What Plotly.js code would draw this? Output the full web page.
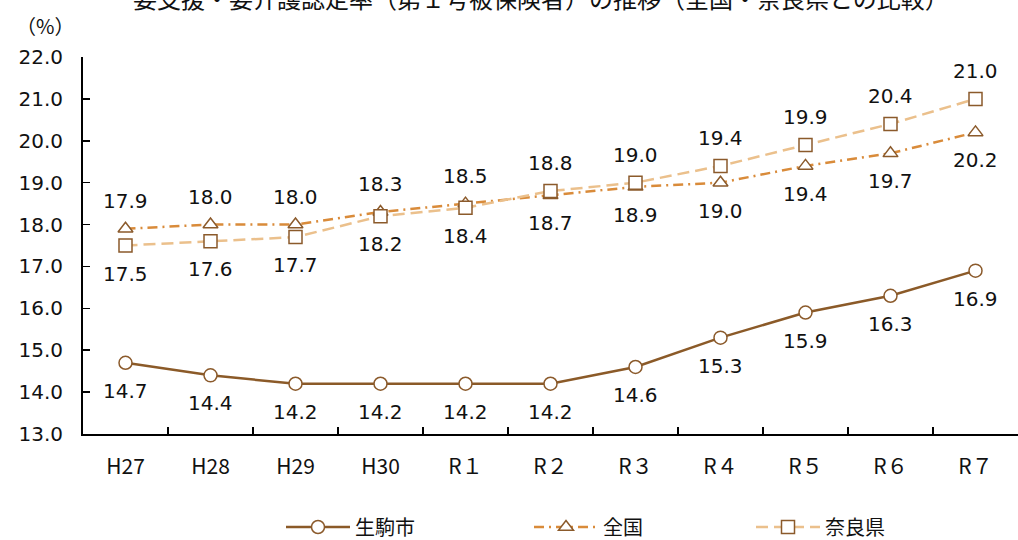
<!DOCTYPE html>
<html>
<head>
<meta charset="utf-8">
<script src="https://cdn.plot.ly/plotly-3.0.1.min.js"></script>
<style>html,body{margin:0;padding:0;background:#fff;}#chart{width:1018px;height:540px;}</style>
</head>
<body>
<div id="chart"></div>
<script>
const years = ["H27","H28","H29","H30","R１","R２","R３","R４","R５","R６","R７"];
const ikoma = [14.7,14.4,14.2,14.2,14.2,14.2,14.6,15.3,15.9,16.3,16.9];
const zenkoku = [17.9,18.0,18.0,18.3,18.5,18.7,18.9,19.0,19.4,19.7,20.2];
const nara = [17.5,17.6,17.7,18.2,18.4,18.8,19.0,19.4,19.9,20.4,21.0];
const seriesNames = ["生駒市","全国","奈良県"];
// label placement: +1 above, -1 below
const zenkokuSide = [1,1,1,1,1,-1,-1,-1,-1,-1,-1];
const naraSide = [-1,-1,-1,-1,-1,1,1,1,1,1,1];
const ikomaSide = [-1,-1,-1,-1,-1,-1,-1,-1,-1,-1,-1];

const NUMFONT = '"DejaVu Sans", "Noto Sans CJK JP", sans-serif';
const JPFONT = '"Noto Sans CJK JP", "Noto Sans", sans-serif';
const markerLine = '#8B5A2B';

const traces = [
  {x: years, y: ikoma, name: seriesNames[0], legend: 'legend', type: 'scatter', mode: 'lines+markers',
   line: {color: '#8B5A28', width: 2.5},
   marker: {symbol: 'circle', size: 13, color: '#ffffff', line: {color: markerLine, width: 1.5}}},
  {x: years, y: zenkoku, name: seriesNames[1], legend: 'legend2', type: 'scatter', mode: 'lines+markers',
   line: {color: '#D98B3A', width: 2.5, dash: '10px,5px,2px,5px'},
   marker: {symbol: 'triangle-up', size: 13, color: '#ffffff', line: {color: markerLine, width: 1.5}}},
  {x: years, y: nara, name: seriesNames[2], legend: 'legend3', type: 'scatter', mode: 'lines+markers',
   line: {color: '#EBC08C', width: 2.5, dash: '12px,6px'},
   marker: {symbol: 'square', size: 13, color: '#ffffff', line: {color: markerLine, width: 1.5}}}
];

const annotations = [];
function addLabels(vals, sides) {
  vals.forEach((v, i) => {
    annotations.push({x: years[i], y: v, xref: 'x', yref: 'y', text: v.toFixed(1),
      showarrow: false, yshift: sides[i] * 28, font: {family: NUMFONT, size: 20, color: '#111'}});
  });
}
addLabels(ikoma, ikomaSide);
addLabels(zenkoku, zenkokuSide);
addLabels(nara, naraSide);
annotations.push({x: (45 - 83) / 935, y: (434 - 25) / 377, xref: 'paper', yref: 'paper',
  xanchor: 'center', yanchor: 'middle', text: '（%）', showarrow: false,
  font: {family: JPFONT, size: 20, color: '#111'}});

function legendAt(xpix) {
  return {orientation: 'h', x: (xpix - 83) / 935, xanchor: 'left', y: 1 - 527/540, yref: 'container',
    yanchor: 'middle', itemwidth: 64, bgcolor: 'rgba(0,0,0,0)',
    font: {family: JPFONT, size: 20, color: '#111'}};
}

const layout = {
  width: 1018, height: 540,
  margin: {l: 83, r: 0, t: 57, b: 106},
  paper_bgcolor: '#fff', plot_bgcolor: '#fff',
  font: {family: NUMFONT, color: '#111'},
  title: {text: '要支援・要介護認定率（第１号被保険者）の推移（全国・奈良県との比較）',
    font: {family: JPFONT, size: 24, color: '#111'}, x: 541/1018, xanchor: 'center',
    y: 1, yref: 'container', yanchor: 'middle'},
  xaxis: {type: 'category', range: [-0.5, 10.5], showline: true, linecolor: '#000', linewidth: 2,
    ticks: 'inside', tickson: 'boundaries', ticklen: 7, tickcolor: '#000', tickwidth: 1.5,
    showgrid: false, zeroline: false, ticklabelstandoff: 13,
    tickfont: {family: JPFONT, size: 21, color: '#111'}},
  yaxis: {range: [13, 22], dtick: 1, tickformat: '.1f', showline: true, linecolor: '#000', linewidth: 2,
    ticks: 'inside', ticklen: 7, tickcolor: '#000', tickwidth: 1.5, showgrid: false, zeroline: false,
    ticklabelstandoff: 14, tickfont: {family: NUMFONT, size: 20, color: '#111'}},
  showlegend: true,
  legend: legendAt(281),
  legend2: legendAt(529),
  legend3: legendAt(751),
  annotations: annotations
};

Plotly.newPlot('chart', traces, layout, {displayModeBar: false, staticPlot: true});
</script>
</body>
</html>
